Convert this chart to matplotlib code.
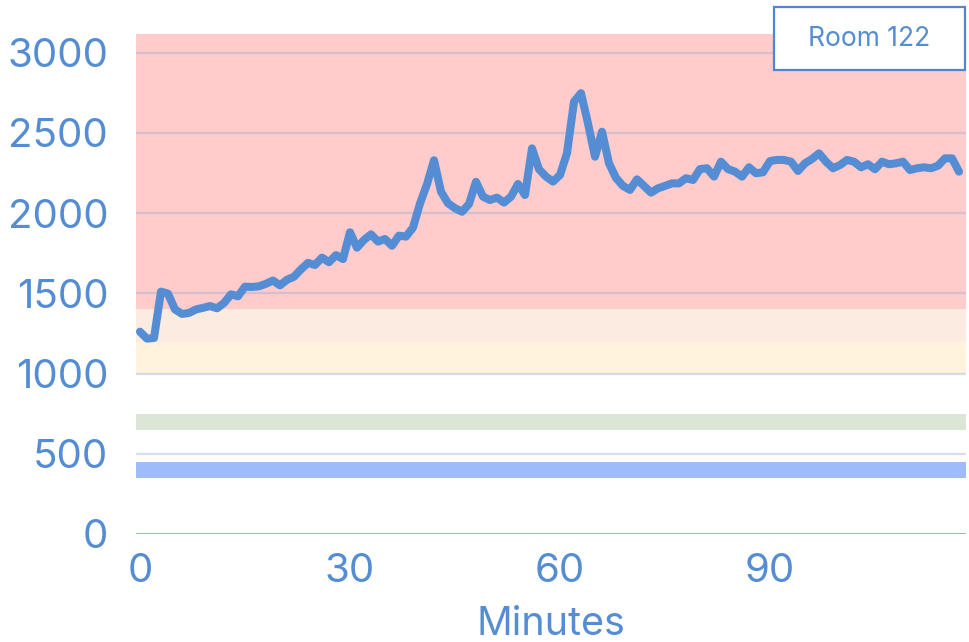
import matplotlib
matplotlib.use("Agg")
import matplotlib.pyplot as plt
from matplotlib.patches import Rectangle

# ---- data ----
minutes = list(range(0, 118))
co2 = [1261, 1218, 1222, 1511, 1498, 1400, 1372, 1378, 1400, 1410,
       1421, 1407, 1440, 1494, 1482, 1542, 1540, 1544, 1560, 1580,
       1550, 1585, 1604, 1650, 1690, 1677, 1723, 1694, 1739, 1714,
       1881, 1785, 1833, 1868, 1823, 1839, 1797, 1860, 1854, 1910,
       2060, 2180, 2330, 2134, 2062, 2031, 2009, 2057, 2196, 2103,
       2082, 2097, 2066, 2103, 2182, 2113, 2404, 2274, 2228, 2197,
       2238, 2374, 2695, 2748, 2560, 2352, 2508, 2311, 2220, 2170,
       2145, 2211, 2170, 2128, 2155, 2170, 2186, 2186, 2218, 2207,
       2275, 2280, 2228, 2321, 2275, 2259, 2228, 2286, 2249, 2255,
       2325, 2332, 2332, 2321, 2263, 2311, 2338, 2373, 2321, 2280,
       2300, 2332, 2321, 2286, 2305, 2274, 2321, 2305, 2311, 2321,
       2269, 2280, 2286, 2280, 2296, 2342, 2342, 2259]
series_name = "Room 122"
x_ticks = [0, 30, 60, 90]
y_ticks = [0, 500, 1000, 1500, 2000, 2500, 3000]
bands = [  # (low, high, colour)
    (1400, 3200, "#FFCCCB"),
    (1200, 1400, "#FBEBE1"),
    (1000, 1200, "#FFF3DE"),
    (650, 750, "#DCE6D6"),
    (350, 450, "#9EBCF9"),
]

text_color = "#548DD4"
line_color = "#548DD4"
plt.rcParams['font.family'] = ['Inter', 'DejaVu Sans']

fig = plt.figure(figsize=(9.70, 6.42), dpi=100)
ax = fig.add_axes([136/970, 1 - 534/642, 830/970, 500/642])

for lo, hi, c in bands:
    ax.axhspan(lo, hi, color=c, lw=0, zorder=0)

for yv in y_ticks[1:]:
    ax.axhline(yv, color=(0.55, 0.65, 0.85, 0.35), lw=1.6, zorder=1)
ax.axhline(0, color="#9DB8E6", lw=1.6, zorder=1)

ax.plot(minutes, co2, color=line_color, lw=5.8, solid_joinstyle='round',
        solid_capstyle='round', zorder=3)

ax.set_xlim(-0.57, 118)
ax.set_ylim(0, 3117)
ax.set_xticks(x_ticks)
ax.set_yticks(y_ticks)
ax.tick_params(axis='both', length=0, labelsize=29, colors=text_color)
ax.tick_params(axis='y', pad=20)
ax.tick_params(axis='x', pad=14)
for s in ax.spines.values():
    s.set_visible(False)
ax.set_xlabel("Minutes", fontsize=28.5, color=text_color, labelpad=11)

# series label box
fig.patches.append(Rectangle((774/970, 1 - 70/642), 191/970, 63/642,
                             transform=fig.transFigure, facecolor="white",
                             edgecolor="#4F86CC", lw=1.6, zorder=5))
fig.text((774 + 191/2)/970, 1 - 38.5/642, series_name, ha='center', va='center',
         fontsize=19, color=text_color, zorder=6)

fig.savefig("out.png", dpi=100)
